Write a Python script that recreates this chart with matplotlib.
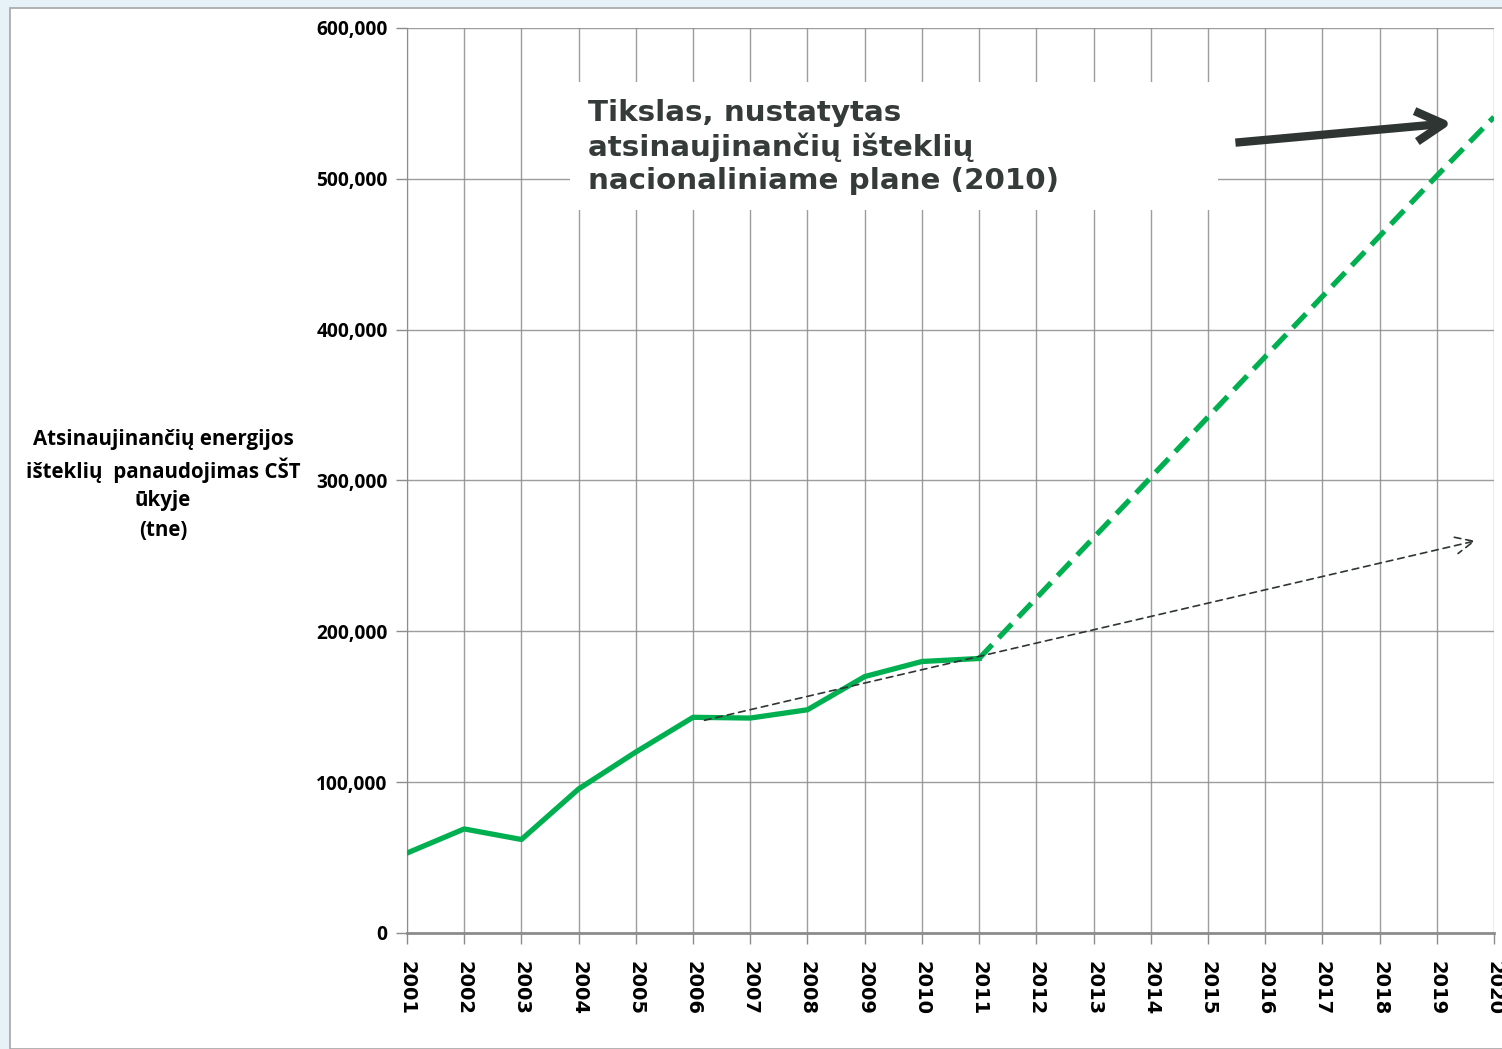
import matplotlib.pyplot as plt
from matplotlib.patches import Rectangle
from matplotlib.ticker import FuncFormatter

years = list(range(2001, 2021))
actual_years = list(range(2001, 2012))
actual_values = [53000, 69000, 62000, 95500, 120000, 143000, 142500, 148000, 170000, 180000, 182000]
target_years = list(range(2011, 2021))
target_values = [182000, 222000, 262000, 302000, 342000, 382000, 422000, 462000, 502000, 541000]
trend_years = [2006.2, 2019.68]
trend_values = [141000, 260000]
goal_arrow_years = [2015.48, 2019.27]
goal_arrow_values = [524000, 537000]

green = '#00B050'
dark = '#2F3533'
grid_col = '#8C8C8C'

fig = plt.figure(figsize=(15.02, 10.49), dpi=100)
fig.patch.set_facecolor('#E7F1F8')
fig.patches.append(Rectangle((10 / 1502, 0), 1.0, 1 - 8 / 1049, transform=fig.transFigure,
                             facecolor='white', edgecolor='#A6A6A6', linewidth=1.2, zorder=-1))

ax = fig.add_axes([407 / 1502, 1 - 933 / 1049, 1087 / 1502, 905 / 1049])
ax.set_facecolor('none')

# series
ax.plot(actual_years, actual_values, color=green, linewidth=3.8, solid_joinstyle='round', zorder=5)
ax.plot(target_years, target_values, color=green, linewidth=3.8, dashes=(3.6, 1.8), zorder=5)
ax.annotate('', xy=(trend_years[1], trend_values[1]), xytext=(trend_years[0], trend_values[0]),
            arrowprops=dict(arrowstyle='->,head_length=1.3,head_width=0.6', color=dark, lw=1.2,
                            linestyle=(0, (4, 3)), shrinkA=0, shrinkB=0), zorder=6)

# label box (white patch hides the grid behind the text)
ax.add_patch(Rectangle((2003.85, 479400), 11.33, 84900, facecolor='white', edgecolor='none', zorder=3))
ax.text(2004.16, 521000, 'Tikslas, nustatytas\natsinaujinančių išteklių\nnacionaliniame plane (2010)',
        fontsize=21.2, fontweight='bold', color='#353B39', family='DejaVu Sans', va='center', ha='left',
        linespacing=1.22, zorder=4)
ax.annotate('', xy=(goal_arrow_years[1], goal_arrow_values[1]),
            xytext=(goal_arrow_years[0], goal_arrow_values[0]),
            arrowprops=dict(arrowstyle='->,head_length=2.0,head_width=1.1', color=dark, lw=6,
                            capstyle='butt', shrinkA=0, shrinkB=0), zorder=6)

ax.set_xlim(2001, 2020)
ax.set_ylim(0, 600000)
ax.set_xticks(years)
ax.set_yticks(range(0, 600001, 100000))
ax.yaxis.set_major_formatter(FuncFormatter(lambda v, p: '{:,.0f}'.format(v)))
ax.grid(True, color=grid_col, linewidth=1.0, alpha=0.85)
ax.set_axisbelow(True)

for s in ['top', 'right']:
    ax.spines[s].set_visible(False)
ax.spines['left'].set_color(grid_col)
ax.spines['bottom'].set_color(grid_col)
ax.spines['bottom'].set_linewidth(2)
ax.tick_params(axis='both', color=grid_col, length=8, width=1)
ax.tick_params(axis='y', pad=6)
ax.tick_params(axis='x', pad=12)

for lab in ax.get_yticklabels():
    lab.set_fontfamily('Open Sans')
    lab.set_fontweight('bold')
    lab.set_fontsize(13.8)
for lab in ax.get_xticklabels():
    lab.set_fontfamily('DejaVu Sans')
    lab.set_fontweight('bold')
    lab.set_fontsize(14)
    lab.set_rotation(270)
    lab.set_va('top')

# y label, one line at a time so the spacing stays even
ylabel_lines = ['Atsinaujinančių energijos', 'išteklių  panaudojimas CŠT', 'ūkyje', '(tne)']
for i, line in enumerate(ylabel_lines):
    fig.text(163 / 1502, 1 - (437 + 30.5 * i) / 1049, line, ha='center', va='center_baseline',
             fontsize=14.8, fontweight='bold', family='Open Sans')

fig.savefig('out.png', dpi=100, facecolor=fig.get_facecolor())
